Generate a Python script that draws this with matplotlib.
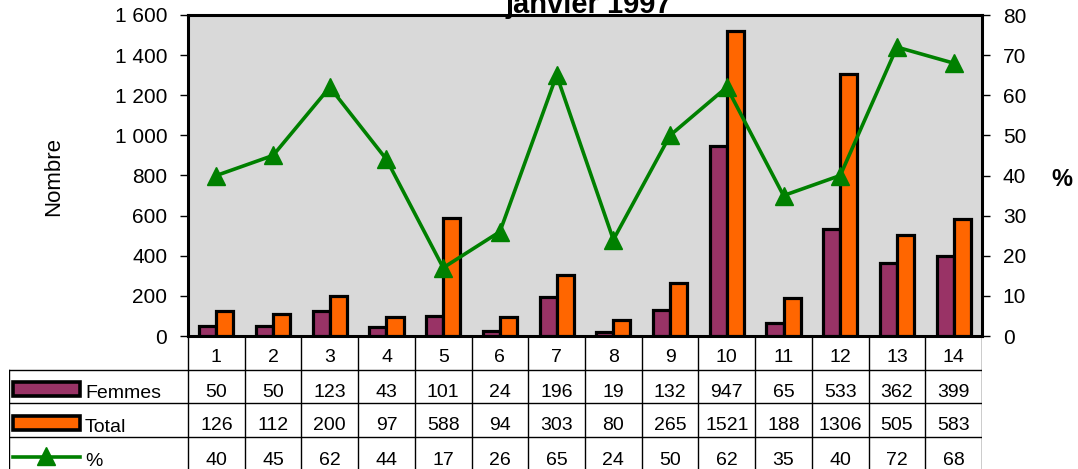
import numpy as np
import matplotlib
matplotlib.use('Agg')
import matplotlib.pyplot as plt
from matplotlib.patches import Rectangle
from matplotlib.lines import Line2D

plt.rcParams['font.family'] = ['Liberation Sans', 'DejaVu Sans']

cats = [str(i) for i in range(1, 15)]
femmes = [50, 50, 123, 43, 101, 24, 196, 19, 132, 947, 65, 533, 362, 399]
total = [126, 112, 200, 97, 588, 94, 303, 80, 265, 1521, 188, 1306, 505, 583]
pct = [40, 45, 62, 44, 17, 26, 65, 24, 50, 62, 35, 40, 72, 68]
left_ticks = [0, 200, 400, 600, 800, 1000, 1200, 1400, 1600]
right_ticks = [0, 10, 20, 30, 40, 50, 60, 70, 80]

PURPLE = '#993366'
ORANGE = '#FF6600'
GREEN = '#008000'

W, H = 1078, 469
fig = plt.figure(figsize=(W / 100, H / 100), dpi=100)
fig.patch.set_facecolor('white')

x0, x1, y0, y1 = 188, 982, 15, 336
ax = fig.add_axes([x0 / W, (H - y1) / H, (x1 - x0) / W, (y1 - y0) / H])
ax.set_facecolor('#d9d9d9')
x = np.arange(len(cats))
ax.bar(x - 0.15, femmes, width=0.3, color=PURPLE, edgecolor='black', lw=2.3, zorder=3)
ax.bar(x + 0.15, total, width=0.3, color=ORANGE, edgecolor='black', lw=2.3, zorder=3)
ax.set_xlim(-0.5, len(cats) - 0.5)
ax.set_ylim(0, 1600)
ax.set_xticks([])
ax.set_yticks(left_ticks)
ax.set_yticklabels([f'{v:,}'.replace(',', ' ') for v in left_ticks], fontsize=15)
ax.tick_params(axis='y', length=6, width=1, pad=9)
for s in ax.spines.values():
    s.set_linewidth(2.2)
fig.text(54 / W, (H - 177) / H, 'Nombre', fontsize=16, rotation=90, ha='center', va='center')

ax2 = ax.twinx()
ax2.plot(x, pct, color=GREEN, lw=2.6, marker='^', ms=13, zorder=5)
ax2.set_ylim(0, 80)
ax2.set_yticks(right_ticks)
ax2.set_yticklabels([str(v) for v in right_ticks], fontsize=15)
ax2.tick_params(axis='y', length=6, width=1, pad=9)
for s in ax2.spines.values():
    s.set_visible(False)
fig.text(1062 / W, (H - 179) / H, '%', fontsize=17, fontweight='bold', ha='center', va='center')
fig.text(589 / W, (H - 13) / H, 'janvier 1997', fontsize=21, fontweight='bold',
         ha='center', va='baseline')

# data table below the plot, y in pixels from the plot bottom
tx0 = 9
unit = (x1 - x0) / len(cats)
tab = fig.add_axes([tx0 / W, -1 / H, (x1 - tx0) / W, 134 / H])
tab.set_xlim(-0.5 - (x0 - tx0) / unit, len(cats) - 0.5)
tab.set_ylim(134, 0)
tab.axis('off')
xl = tab.get_xlim()[0]
xr = len(cats) - 0.5
rows = [0, 34, 67, 101, 134]
for yy in rows[1:4]:
    tab.plot([xl, xr], [yy, yy], color='black', lw=1)
tab.plot([xl, xl], [34, 134], color='black', lw=1)
for k in range(len(cats) + 1):
    tab.plot([k - 0.5, k - 0.5], [0, 134], color='black', lw=1)

for i, c in enumerate(cats):
    tab.text(i, 26, c, ha='center', va='baseline', fontsize=14)
for base, vals in zip([61, 94, 129], [femmes, total, pct]):
    for i, v in enumerate(vals):
        tab.text(i, base, str(v), ha='center', va='baseline', fontsize=14)


def px(p):
    return xl + (p - tx0) / unit


# legend keys in the row-label column
tab.add_patch(Rectangle((px(13), 46), px(80) - px(13), 14, facecolor=PURPLE,
                        edgecolor='black', lw=2.6))
tab.text(px(85), 62, 'Femmes', ha='left', va='baseline', fontsize=14)
tab.add_patch(Rectangle((px(13), 80), px(80) - px(13), 14, facecolor=ORANGE,
                        edgecolor='black', lw=2.6))
tab.text(px(85), 96, 'Total', ha='left', va='baseline', fontsize=14)
tab.add_line(Line2D([px(13), px(80)], [121, 121], color=GREEN, lw=2.6))
tab.plot([px(46)], [120], marker='^', ms=13, color=GREEN)
tab.text(px(85), 130, '%', ha='left', va='baseline', fontsize=14)

fig.savefig('out.png', dpi=100)
